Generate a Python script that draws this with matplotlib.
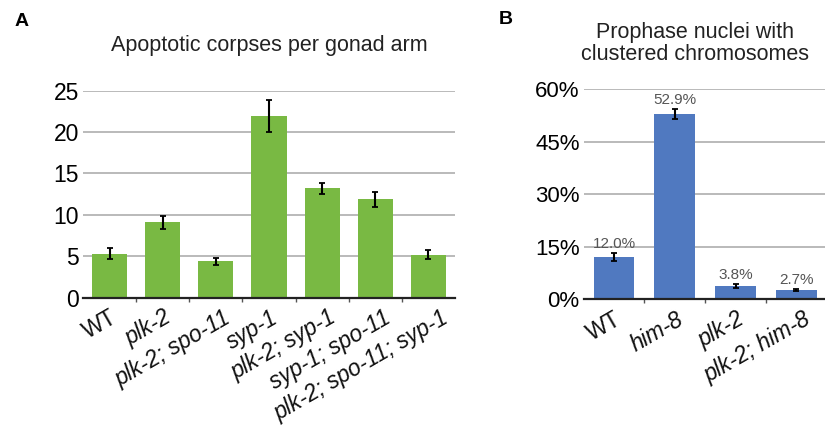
import numpy as np
import matplotlib
matplotlib.use("Agg")
import matplotlib.pyplot as plt
from matplotlib.ticker import FixedLocator

plt.rcParams['font.family'] = ['Liberation Sans', 'DejaVu Sans']

# panel A data
a_labels = ['WT', 'plk-2', 'plk-2; spo-11', 'syp-1', 'plk-2; syp-1',
            'syp-1; spo-11', 'plk-2; spo-11; syp-1']
a_values = [5.3, 9.1, 4.4, 21.9, 13.2, 11.9, 5.2]
a_errors = [0.65, 0.75, 0.45, 1.95, 0.7, 0.9, 0.5]
a_ticks = [0, 5, 10, 15, 20, 25]

# panel B data
b_labels = ['WT', 'him-8', 'plk-2', 'plk-2; him-8']
b_values = [12.0, 52.9, 3.8, 2.7]
b_errors = [1.15, 1.4, 0.5, 0.25]
b_ticks = [0, 15, 30, 45, 60]

green = '#79B943'
blue = '#5079C0'
grid_col = '#B4B4B4'

fig = plt.figure(figsize=(8.25, 4.37), dpi=100)


def style_axes(ax, n):
    for s in ['top', 'right', 'left']:
        ax.spines[s].set_visible(False)
    ax.spines['bottom'].set_linewidth(1.6)
    ax.spines['bottom'].set_color('#222222')
    ax.set_axisbelow(True)
    ax.yaxis.grid(True, color=grid_col, linewidth=1.3)
    ax.tick_params(axis='y', length=0, pad=3)
    ax.set_xticks([])
    ax.xaxis.set_minor_locator(FixedLocator(np.arange(n - 1) + 0.5))
    ax.tick_params(axis='x', which='minor', length=3, width=1, color='#555555')
    ax.set_xlim(-0.5, n - 0.5)


def rotated_labels(ax, labels, size):
    # Excel-like slanted category labels, longer ones sit a bit further right
    anns = []
    for i, lab in enumerate(labels):
        style = 'normal' if lab == 'WT' else 'italic'
        t = ax.annotate(lab, (i, 0), xycoords=('data', 'axes fraction'),
                        xytext=(0, -4), textcoords='offset points',
                        rotation=30, rotation_mode='anchor', ha='right',
                        va='top', fontsize=size, style=style, color='#111111')
        anns.append(t)
    return anns


# panel A
axA = fig.add_axes([0.1006, 0.3188, 0.4509, 0.4737])
xa = np.arange(len(a_labels))
axA.bar(xa, a_values, width=0.66, color=green, zorder=2)
axA.errorbar(xa, a_values, yerr=a_errors, fmt='none', ecolor='black',
             elinewidth=1.5, capsize=2.5, capthick=1.3, zorder=3)
style_axes(axA, len(a_labels))
axA.set_ylim(0, 25)
axA.set_yticks(a_ticks)
axA.set_yticklabels([str(t) for t in a_ticks], fontsize=16.5)
annsA = rotated_labels(axA, a_labels, 16.3)

# panel B
axB = fig.add_axes([0.7075, 0.315, 0.2945, 0.4806])
xb = np.arange(len(b_labels))
axB.bar(xb, b_values, width=0.67, color=blue, zorder=2)
axB.errorbar(xb, b_values, yerr=b_errors, fmt='none', ecolor='black',
             elinewidth=1.5, capsize=2.5, capthick=1.3, zorder=3)
style_axes(axB, len(b_labels))
axB.set_ylim(0, 60)
axB.set_yticks(b_ticks)
axB.set_yticklabels([f'{t}%' for t in b_ticks], fontsize=16)
annsB = rotated_labels(axB, b_labels, 16.4)
for x, v, e in zip(xb, b_values, b_errors):
    axB.annotate(f'{v:.1f}%', (x, v + e), xytext=(0, 1.5), textcoords='offset points',
                 ha='center', va='bottom', fontsize=11, color='#555555')

# titles and panel letters
fig.text(0.327, 0.897, 'Apoptotic corpses per gonad arm', ha='center',
         va='center', fontsize=15.5, color='#222222')
fig.text(0.843, 0.9, 'Prophase nuclei with\nclustered chromosomes', ha='center',
         va='center', fontsize=15.5, color='#222222', linespacing=1.05)
fig.text(0.017, 0.95, 'A', fontsize=14, fontweight='bold', va='center')
fig.text(0.604, 0.955, 'B', fontsize=14, fontweight='bold', va='center')

# shift long labels to the right in proportion to their length
fig.canvas.draw()
r = fig.canvas.get_renderer()
for t in annsA + annsB:
    w = t.get_window_extent(r).width
    dx = (0.09 * w - 4) * 72 / fig.dpi
    t.xyann = (dx, -6)

fig.savefig('out.png', dpi=100)
